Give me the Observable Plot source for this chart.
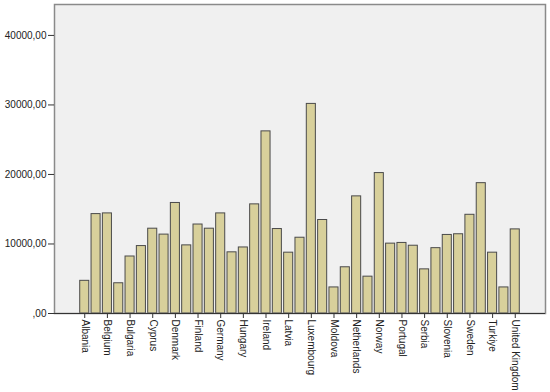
<!DOCTYPE html>
<html><head><meta charset="utf-8">
<script src="https://cdn.jsdelivr.net/npm/d3@7"></script>
<script src="https://cdn.jsdelivr.net/npm/@observablehq/plot@0.6"></script>
<style>body{margin:0;background:#fff;} svg{display:block;}</style>
</head><body><div id="chart"></div>
<script>
const countries = ["Albania","Austria","Belgium","Bosnia and Herzegovina","Bulgaria","Croatia","Cyprus","Czechia","Denmark","Estonia","Finland","France","Germany","Greece","Hungary","Iceland","Ireland","Italy","Latvia","Lithuania","Luxembourg","Malta","Moldova","Montenegro","Netherlands","North Macedonia","Norway","Poland","Portugal","Romania","Serbia","Slovakia","Slovenia","Spain","Sweden","Switzerland","Turkiye","Ukraine","United Kingdom"];
const values = [4700,14300,14400,4350,8200,9700,12200,11350,15900,9800,12800,12200,14400,8800,9500,15700,26200,12150,8750,10900,30150,13450,3750,6650,16850,5300,20200,10050,10150,9750,6350,9400,11300,11400,14200,18750,8750,3750,12100];
const yTicks = [0,10000,20000,30000,40000];
const shownLabels = countries.filter((c,i) => i % 2 === 0);

const data = countries.map((c,i) => ({country: c, value: values[i]}));

const chart = Plot.plot({
  width: 550, height: 392,
  marginLeft: 54, marginRight: 5, marginTop: 4, marginBottom: 79,
  style: {fontFamily: "Liberation Sans, Arial, sans-serif", fontSize: "10px", color: "#222", background: "#fff"},
  x: {domain: countries, padding: 0.2, insetLeft: 23.45, insetRight: 23.45, round: false, label: null},
  y: {domain: [0, 44450], label: null},
  marks: [
    Plot.frame({fill: "#f0f0f0", stroke: null}),
    Plot.barY(data, {x: "country", y: "value", fill: "#d8d09b", stroke: "#4a4a4a", strokeWidth: 1}),
    Plot.frame({stroke: "#8a8a8a", strokeWidth: 1.5}),
    Plot.axisY({ticks: yTicks, tickSize: 6, tickPadding: 2, tickFormat: d => d === 0 ? ",00" : d + ",00", stroke: "#333", fill: "#222", label: null}),
    Plot.axisX({ticks: shownLabels, tickSize: 5, tickFormat: () => "", stroke: "#333", label: null}),
    Plot.text(shownLabels, {x: d => d, frameAnchor: "bottom", dy: 6, rotate: 90, textAnchor: "start", lineAnchor: "middle", fill: "#222", fontSize: 10}),
    Plot.ruleY([0], {stroke: "#333"})
  ]
});
document.getElementById("chart").appendChild(chart);
</script>
</body></html>
